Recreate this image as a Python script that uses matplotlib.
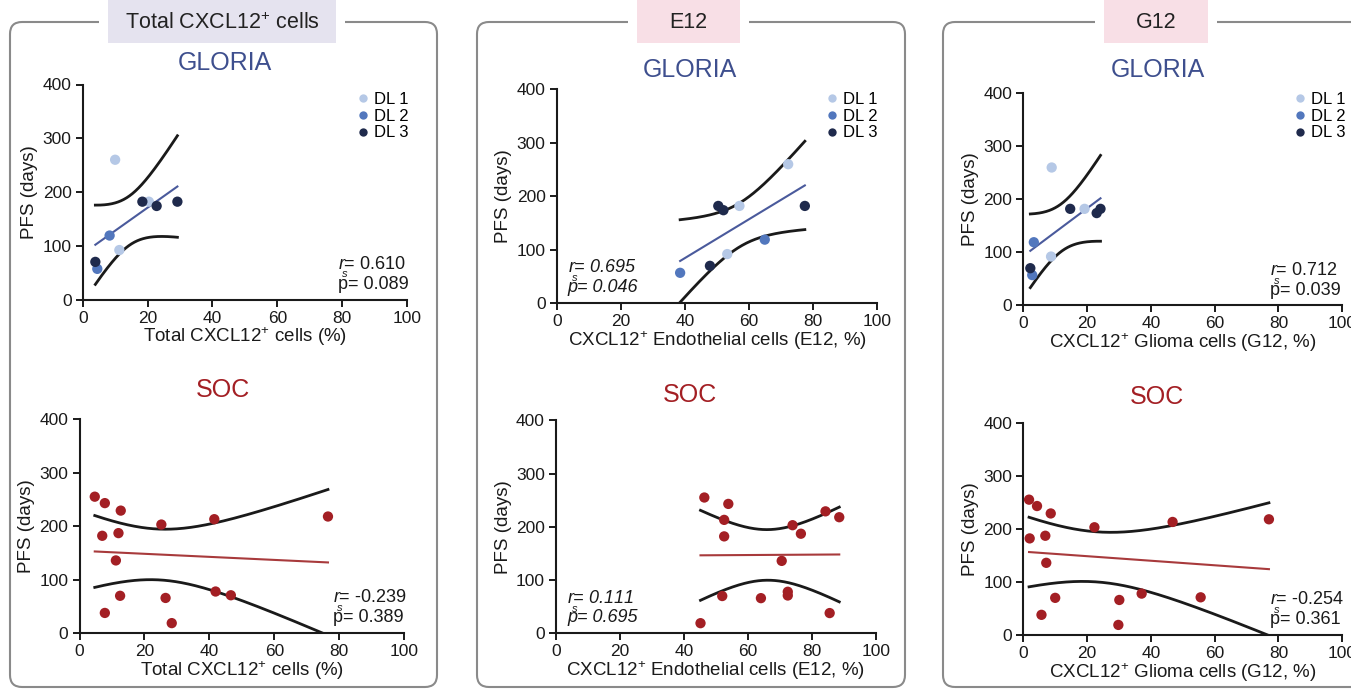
import numpy as np
import matplotlib
matplotlib.use('Agg')
import matplotlib.pyplot as plt
from matplotlib.patches import FancyBboxPatch, Rectangle
from matplotlib.lines import Line2D

plt.rcParams['font.family'] = ['Liberation Sans', 'DejaVu Sans']
plt.rcParams['mathtext.fontset'] = 'custom'
plt.rcParams['mathtext.rm'] = 'Liberation Sans'
plt.rcParams['mathtext.it'] = 'Liberation Sans:italic'

# GLORIA cohort (PFS in days, x in %)
gl_pfs = [260, 182, 92, 119, 57, 70, 182, 174, 182]
gl_dl = [1, 1, 1, 2, 2, 3, 3, 3, 3]
gl_total = [10.0, 20.4, 11.3, 8.3, 4.5, 3.9, 18.4, 22.8, 29.2]
gl_e12 = [72.2, 57.0, 53.2, 64.9, 38.5, 47.8, 50.4, 52.0, 77.4]
gl_g12 = [8.9, 19.2, 8.7, 3.3, 2.8, 2.2, 14.7, 23.0, 24.2]

# SOC cohort
soc_pfs = [255, 243, 229, 203, 213, 218, 182, 187, 136, 70, 38, 66, 19, 78, 71]
soc_total = [4.7, 7.8, 12.7, 25.2, 41.5, 76.5, 7.0, 12.0, 11.2, 12.5, 7.8, 26.5, 28.4, 41.9, 46.6]
soc_e12 = [46.4, 53.9, 84.3, 74.0, 52.6, 88.6, 52.6, 76.6, 70.6, 52.0, 85.6, 64.1, 45.2, 72.5, 72.5]
soc_g12 = [1.8, 4.3, 8.6, 22.3, 46.8, 77.0, 2.0, 6.9, 7.2, 10.0, 5.7, 30.1, 29.8, 37.1, 55.6]

headers = ['Total CXCL12$^{+}$ cells', 'E12', 'G12']
xlabels = ['Total CXCL12$^{+}$ cells (%)',
           'CXCL12$^{+}$ Endothelial cells (E12, %)',
           'CXCL12$^{+}$ Glioma cells (G12, %)']
gl_stats = [('0.610', '0.089'), ('0.695', '0.046'), ('0.712', '0.039')]
soc_stats = [('-0.239', '0.389'), ('0.111', '0.695'), ('-0.254', '0.361')]

dl_colors = {1: '#b5c8e6', 2: '#5277bd', 3: '#1f2a4c'}
blue_title = '#3e4f8e'
red = '#a31f24'

W, H = 1351, 690
fig = plt.figure(figsize=(W / 100, H / 100), dpi=100)


def px_axes(l, r, t, b):
    return fig.add_axes([l / W, (H - b) / H, (r - l) / W, (b - t) / H])


# panel frames and header tabs
frames = [(10, 437), (477, 905), (943, 1385)]
tabs = [(108, 336, '#e5e3ef'), (637, 740, '#f8dfe6'), (1104, 1208, '#f8dfe6')]
for (fl, fr), (tl, tr, tc), head in zip(frames, tabs, headers):
    fig.patches.append(FancyBboxPatch((fl / 100, 0.03), (fr - fl) / 100, 6.65,
                                      boxstyle='round,pad=0,rounding_size=0.12',
                                      transform=fig.dpi_scale_trans, fc='none',
                                      ec='#8a8a8a', lw=1.5))
    fig.patches.append(Rectangle(((tl - 9) / 100, 6.45), (tr - tl + 18) / 100, 0.45,
                                 transform=fig.dpi_scale_trans, fc='white', ec='none'))
    fig.patches.append(Rectangle((tl / 100, 6.47), (tr - tl) / 100, 0.43,
                                 transform=fig.dpi_scale_trans, fc=tc, ec='none'))
    fig.text((tl + tr) / 2 / W, 1 - 23 / H, head, ha='center', va='center',
             fontsize=15.5, color='#222222')

top_boxes = [(82.7, 407, 84.5, 299.5), (556.7, 877.3, 89.3, 303.3), (1023.3, 1342.3, 93.3, 305.3)]
bot_boxes = [(79.5, 404.3, 419, 633.3), (556, 875.7, 420.3, 633.3), (1023.3, 1342.3, 422.7, 635)]
gl_title_pos = [(225, 63), (690, 70), (1158, 70)]
soc_title_pos = [(223, 390), (690, 395), (1157, 397)]
legend_pos = [(358, 92), (827, 92), (1295, 92)]
stat_x_top = [0.787, 0.035, 0.773]
stat_x_bot = [0.780, 0.035, 0.773]
stat_italic = [False, True, False]

T95 = {7: 2.3646, 13: 2.1604}


def style_axes(ax, xlabel):
    ax.set_xlim(0, 100)
    ax.set_ylim(0, 400)
    ax.set_xticks(range(0, 101, 20))
    ax.set_yticks(range(0, 401, 100))
    for s in ['top', 'right']:
        ax.spines[s].set_visible(False)
    for s in ['left', 'bottom']:
        ax.spines[s].set_linewidth(1.5)
        ax.spines[s].set_color('#1a1a1a')
    ax.tick_params(direction='out', length=5, width=1.4, labelsize=12.5,
                   colors='#1a1a1a', pad=3)
    ax.set_xlabel(xlabel, fontsize=13.5, labelpad=0, color='#1a1a1a')
    ax.set_ylabel('PFS (days)', fontsize=13.5, labelpad=3, color='#1a1a1a')
    ax.patch.set_alpha(0)


def fit_bands(ax, x, y, color):
    x = np.asarray(x, float)
    y = np.asarray(y, float)
    n = len(x)
    b, a = np.polyfit(x, y, 1)
    xs = np.linspace(x.min(), x.max(), 200)
    yh = a + b * xs
    resid = y - (a + b * x)
    s = np.sqrt(np.sum(resid ** 2) / (n - 2))
    sxx = np.sum((x - x.mean()) ** 2)
    half = T95[n - 2] * s * np.sqrt(1 / n + (xs - x.mean()) ** 2 / sxx)
    ax.plot(xs, yh, color=color, lw=1.5, zorder=2)
    ax.plot(xs, yh + half, color='#1a1a1a', lw=2, zorder=2)
    ax.plot(xs, yh - half, color='#1a1a1a', lw=2, zorder=2)


def stats_text(ax, r, p, xx, italic):
    style = 'italic' if italic else 'normal'
    ax.text(xx, 0.165, '$r$= ' + r, transform=ax.transAxes, va='center',
            ha='left', fontsize=13, color='#1a1a1a', style=style)
    ax.annotate('s', xy=(xx, 0.165), xycoords='axes fraction', xytext=(3.2, -7.5),
                textcoords='offset points', va='center', ha='left', fontsize=8,
                style='italic', color='#1a1a1a')
    ax.text(xx, 0.072, 'p= ' + p, transform=ax.transAxes, va='center',
            ha='left', fontsize=13, color='#1a1a1a', style=style)


gl_x = [gl_total, gl_e12, gl_g12]
soc_x = [soc_total, soc_e12, soc_g12]

for i in range(3):
    # GLORIA
    ax = px_axes(*top_boxes[i])
    style_axes(ax, xlabels[i])
    fit_bands(ax, gl_x[i], gl_pfs, '#4a5a9c')
    ax.scatter(gl_x[i], gl_pfs, s=55, c=[dl_colors[d] for d in gl_dl],
               edgecolors='none', zorder=3, clip_on=False)
    stats_text(ax, *gl_stats[i], stat_x_top[i], stat_italic[i])
    handles = [Line2D([], [], ls='none', marker='o', ms=6, mec='none',
                      mfc=dl_colors[d]) for d in (1, 2, 3)]
    lx, ly = legend_pos[i]
    ax.legend(handles, ['DL 1', 'DL 2', 'DL 3'], loc='upper left',
              bbox_to_anchor=(lx / W, 1 - ly / H), bbox_transform=fig.transFigure,
              frameon=False, fontsize=12, handlelength=0.6, handletextpad=0.35,
              labelspacing=0.1, borderpad=0, borderaxespad=0)
    tx, ty = gl_title_pos[i]
    fig.text(tx / W, 1 - ty / H, 'GLORIA', ha='center', va='center',
             fontsize=18, color=blue_title)

    # SOC
    ax = px_axes(*bot_boxes[i])
    style_axes(ax, xlabels[i])
    fit_bands(ax, soc_x[i], soc_pfs, '#a83a3c')
    ax.scatter(soc_x[i], soc_pfs, s=55, c=red, edgecolors='none', zorder=3,
               clip_on=False)
    stats_text(ax, *soc_stats[i], stat_x_bot[i], stat_italic[i])
    tx, ty = soc_title_pos[i]
    fig.text(tx / W, 1 - ty / H, 'SOC', ha='center', va='center',
             fontsize=18, color=red)

fig.savefig('out.png', dpi=100)
